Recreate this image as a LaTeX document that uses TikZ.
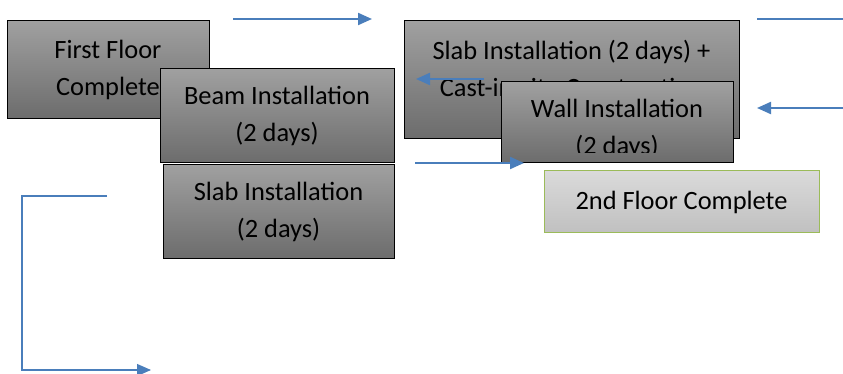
\documentclass[tikz,border=0pt]{standalone}
\usepackage{fontspec}
\setmainfont{Carlito}
\usetikzlibrary{arrows.meta}

\definecolor{flowblue}{RGB}{74,126,187}
\definecolor{boxtop}{RGB}{160,160,160}
\definecolor{boxbottom}{RGB}{108,108,108}
\definecolor{donetop}{RGB}{218,218,218}
\definecolor{donebottom}{RGB}{192,192,192}
\definecolor{doneline}{RGB}{155,187,89}

\begin{document}
\begin{tikzpicture}[x=0.75pt,y=-0.75pt]
    \tikzset{base/.style = {rectangle, draw=black, line width=0.75pt,
                           inner sep=0pt, align=center,
                           font=\fontsize{19.8pt}{27.75pt}\selectfont}}
    \tikzset{task/.style = {base, top color=boxtop, bottom color=boxbottom}}
    \tikzset{milestone/.style = {base, draw=doneline, top color=donetop, bottom color=donebottom}}
    \tikzset{plain/.style = {inner sep=0pt, align=center,
                            font=\fontsize{19.8pt}{27.75pt}\selectfont}}
    \tikzset{flow/.style = {draw=flowblue, line width=1.6pt,
                           -{Triangle[length=10.5pt,width=9pt]}}}
    \tikzset{thinflow/.style = {draw=flowblue, line width=0.8pt}}

    \useasboundingbox (0,0) rectangle (843,374);

    \node (first) [task, minimum width=151.5pt, minimum height=73.5pt] at (108,70) {First Floor\\Complete};
    \node (beam) [task, minimum width=175.5pt, minimum height=70.5pt] at (277,116) {Beam Installation\\(2 days)};
    \node (slab) [task, minimum width=173.25pt, minimum height=70.5pt] at (278.5,212) {Slab Installation\\(2 days)};

    \node (slabcast) [task, minimum width=251.25pt, minimum height=88.5pt] at (571.5,80) {};
    \node (slabcasttext) [plain] at (571.5,68) {Slab Installation (2 days) +\\Cast-in-situ Construction};

    \node (wall) [task, minimum width=174pt, minimum height=60.75pt] at (617,122.5) {};
    \begin{scope}
        \clip (502,83) rectangle (732,153);
        \node (walltext) [plain] at (617,129) {Wall Installation\\(2 days)};
    \end{scope}

    \node (second) [milestone, minimum width=206.25pt, minimum height=46.5pt] at (681.5,202) {2nd Floor Complete};

    % loose connectors
    \coordinate (a1) at (233,19);  \coordinate (a2) at (372,19);
    \coordinate (b1) at (757,19);  \coordinate (b2) at (843,19);
    \coordinate (c1) at (843,108); \coordinate (c2) at (757,108);
    \coordinate (d1) at (484,79);  \coordinate (d2) at (416,79);
    \coordinate (e1) at (415,163); \coordinate (e2) at (524,163);
    \coordinate (f1) at (107,196); \coordinate (f2) at (22,196);
    \coordinate (f3) at (22,370);  \coordinate (f4) at (151,370);

    \draw[flow] (a1) -- (a2);
    \draw[thinflow] (b1) -- (b2);
    \draw[flow] (c1) -- (c2);
    \draw[flow] (d1) -- (d2);
    \draw[flow] (e1) -- (e2);
    \draw[thinflow, -{Triangle[length=10.5pt,width=9pt]}] (f1) -- (f2) -- (f3) -- (f4);

\end{tikzpicture}
\end{document}
